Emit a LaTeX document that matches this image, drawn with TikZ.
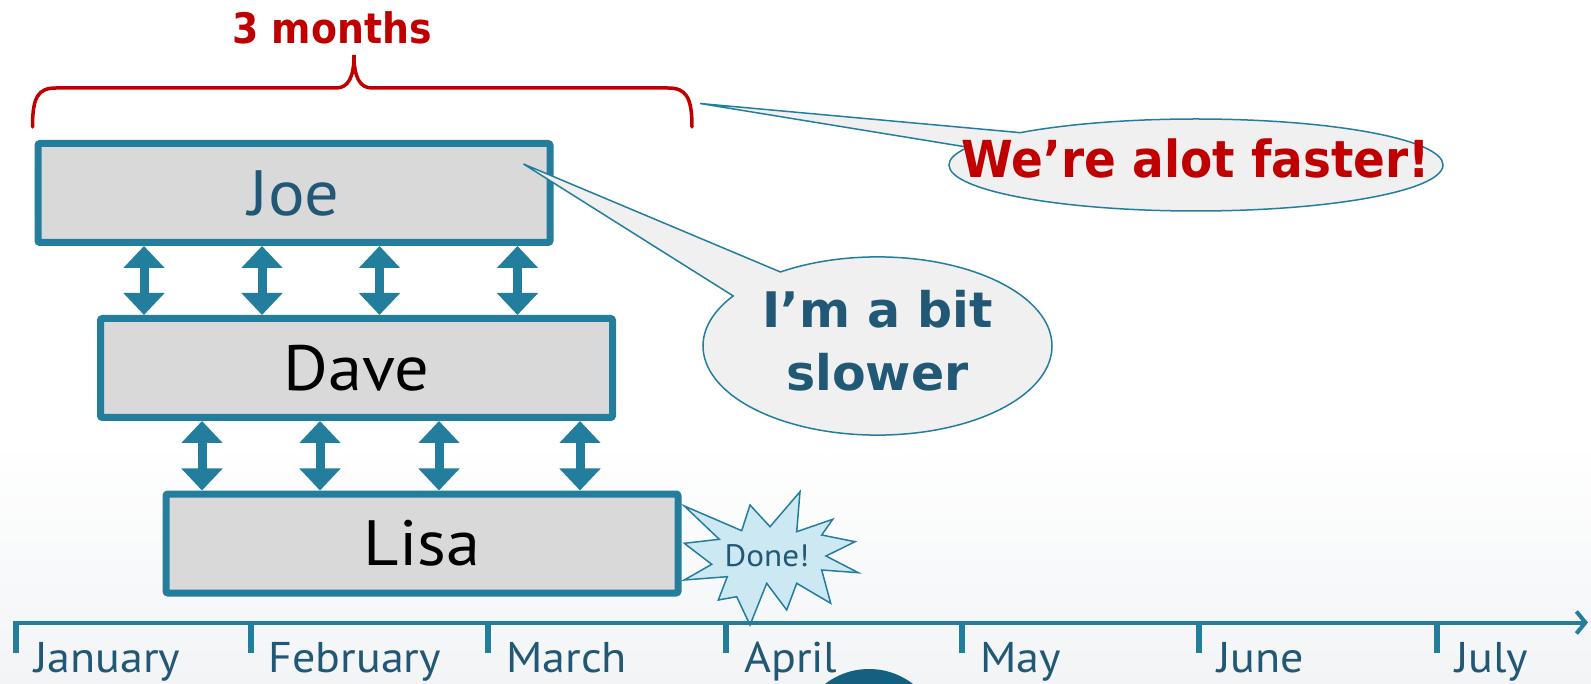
\documentclass[tikz,border=0pt]{standalone}
\usepackage{fontspec}
\setmainfont[FakeStretch=1.07]{PT Sans}
\newfontfamily\dvwide{DejaVu Sans}
\newfontfamily\dvnarrow[FakeStretch=0.92]{DejaVu Sans}
\newfontfamily\dvnarrower[FakeStretch=0.9]{DejaVu Sans}
\usetikzlibrary{arrows.meta,shapes.callouts,calc}
\definecolor{teal1}{RGB}{35,126,158}
\definecolor{navy1}{RGB}{33,88,118}
\definecolor{red1}{RGB}{192,0,0}
\definecolor{boxfill}{RGB}{217,217,217}
\definecolor{callfill}{RGB}{240,240,240}
\definecolor{burstfill}{RGB}{204,232,242}
\definecolor{blobc}{RGB}{20,96,128}
\begin{document}
\begin{tikzpicture}[x=1pt,y=-1pt,
  personbox/.style={draw=teal1, line width=7pt, fill=boxfill, rounded corners=2pt,
    minimum width=512pt, minimum height=99pt, inner sep=0pt,
    font=\fontsize{64}{70}\selectfont},
  dbl/.style={draw=teal1, line width=9pt,
    {Triangle[width=40pt,length=22pt]}-{Triangle[width=40pt,length=22pt]}},
  bubble/.style={ellipse callout, draw=teal1, line width=1.5pt, fill=callfill, inner sep=0pt},
  monthlbl/.style={anchor=base west, text=navy1, inner sep=0pt, font=\fontsize{43}{48}\selectfont},
  tick/.style={draw=teal1, line width=6pt},
]
\useasboundingbox (0,0) rectangle (1591,684);
% faint background
\shade[top color=white, bottom color={rgb,255:red,242;green,244;blue,246}] (0,440) rectangle (1591,684);
\begin{scope}
  \clip (0,0) rectangle (1591,684);
  \fill[blobc] (869,741) circle (72pt);
\end{scope}

% brace and label
\draw[red1, line width=3.5pt, line cap=round]
  (32.5,127) .. controls (32.5,97) and (38,88) .. (56,88) -- (336,88)
  .. controls (349,88) and (354,76) .. (354,55)
  .. controls (354,76) and (359,88) .. (372,88) -- (668,88)
  .. controls (686,88) and (692,97) .. (692,127);
\node[text=red1, font=\dvnarrower\bfseries\fontsize{42}{46}\selectfont, inner sep=0pt] (months) at (332,28) {3 months};

% person boxes
\node[personbox, text=navy1] (joe) at (294,193) {Joe};
\node[personbox, text=black] (dave) at (356.5,368) {Dave};
\node[personbox, text=black] (lisa) at (422,543.5) {Lisa};

% arrows between boxes
\foreach \dx [count=\i] in {109.5,227.5,345,483} {
  \coordinate (jd\i) at ([xshift=\dx pt]joe.south west);
  \draw[dbl] (jd\i) -- (jd\i |- dave.north);
}
\foreach \dx [count=\i] in {105,223,342,483} {
  \coordinate (dl\i) at ([xshift=\dx pt]dave.south west);
  \draw[dbl] (dl\i) -- (dl\i |- lisa.north);
}

% callouts
\coordinate (tipslow) at (523.5,164);
\coordinate (tipfast) at (700,103.5);
\node[bubble, minimum width=349pt, minimum height=140pt, callout absolute pointer=(tipslow),
  callout pointer arc=22, text=navy1, font=\dvwide\bfseries\fontsize{49}{63}\selectfont] (slow) at (877.5,346)
  {\makebox[0pt]{\begin{tabular}{@{}c@{}}I’m a bit\\slower\end{tabular}}};
\node[bubble, minimum width=494pt, minimum height=92pt, callout absolute pointer=(tipfast),
  callout pointer arc=22, text=red1, text depth=14pt, font=\dvnarrow\bfseries\fontsize{51}{56}\selectfont] (fast) at (1196,165)
  {\makebox[0pt]{We’re alot faster!}};

% starburst
\draw[draw=teal1, line width=1.5pt, fill=burstfill, line join=miter]
  (684.3,506) -- (741.7,530.7) -- (750,505) -- (770,526.7) -- (800,491.7) -- (796.7,531.7)
  -- (832.7,519.3) -- (821.7,535) -- (855,541.7) -- (826,556) -- (858.3,572.7) -- (821.7,570)
  -- (830.7,603.3) -- (796.7,583.3) -- (786.7,610) -- (766.7,583.3) -- (750,625) -- (736.7,596.7)
  -- (718.3,600) -- (727.3,576.7) -- (684.3,580) -- (711.7,564.3) -- (684.3,543.3) -- (719.3,539.3) -- cycle;
\node[text=navy1, font=\fontsize{31}{34}\selectfont, inner sep=0pt] (done) at (767,556) {Done!};

% timeline
\coordinate (tl0) at (14,622.5);
\coordinate (tl1) at (1588,622.5);
\draw[teal1, line width=4pt, -{Straight Barb[length=9pt,width=22pt]}] (tl0) -- (tl1);
\foreach \x/\m in {16/January,250.5/February,488/March,726/April,962/May,1199/June,1437/July} {
  \draw[tick] (\x,621) -- (\x,653);
  \node[monthlbl] at (\x+18,672.7) {\m};
}
\end{tikzpicture}
\end{document}
